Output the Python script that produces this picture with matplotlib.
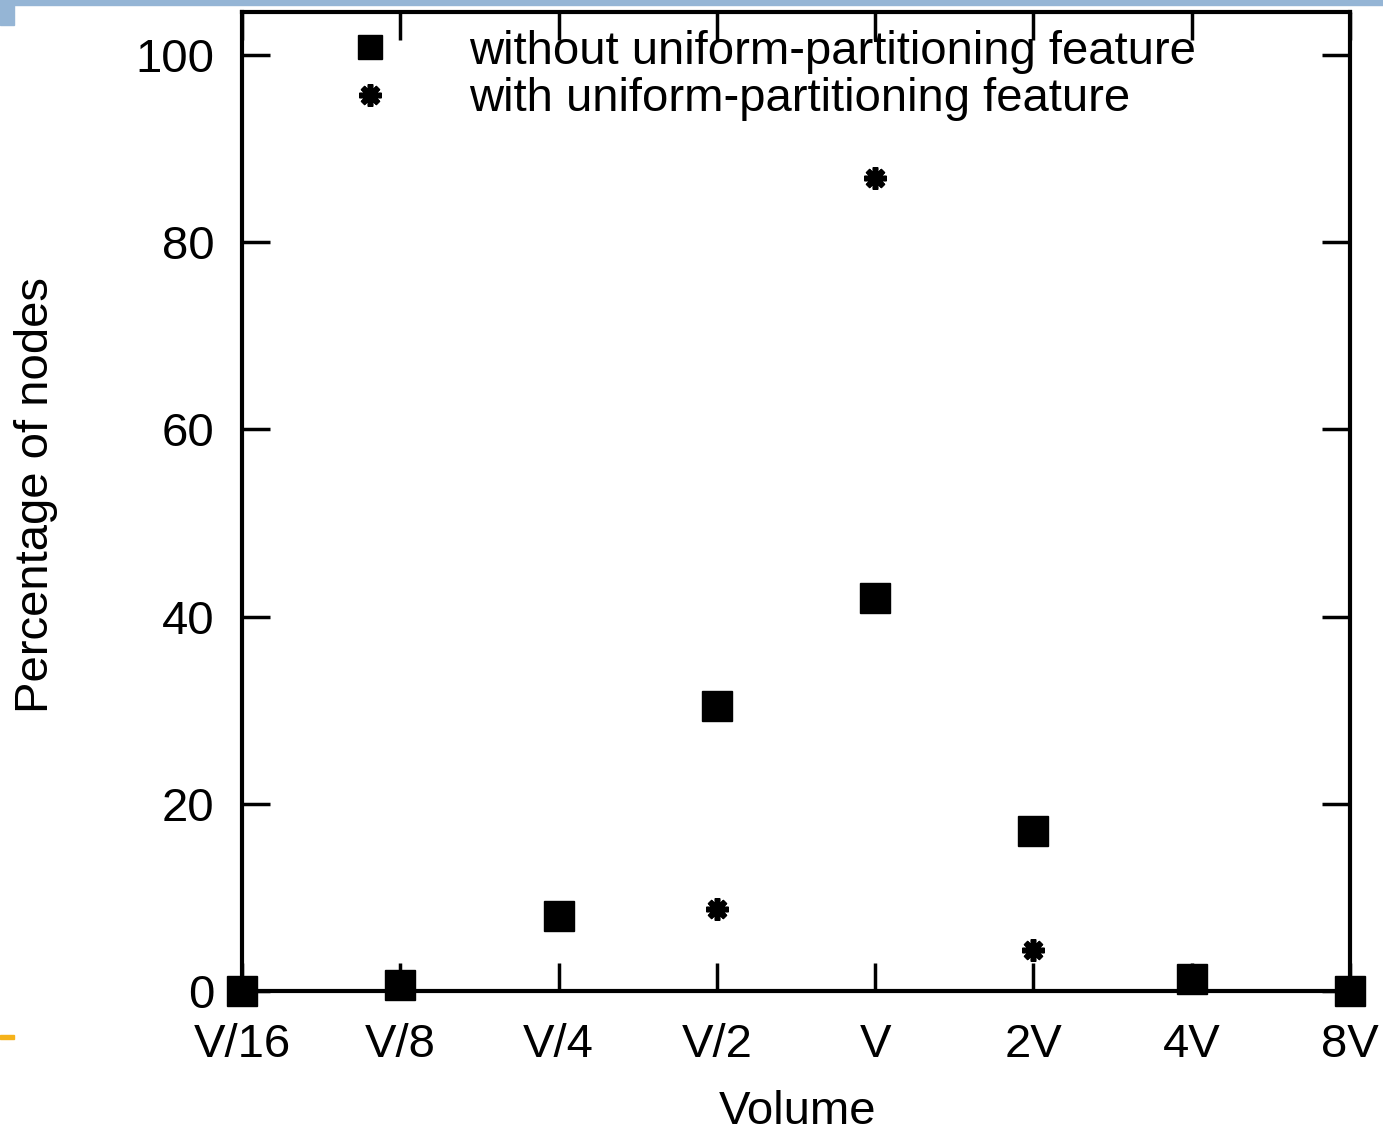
import numpy as np
import matplotlib.pyplot as plt
from matplotlib.patches import Rectangle

plt.rcParams['font.family'] = ['Liberation Sans', 'DejaVu Sans']

volume_labels = ["V/16", "V/8", "V/4", "V/2", "V", "2V", "4V", "8V"]
without_uniform = [0.0, 0.6, 8.0, 30.4, 42.0, 17.1, 1.3, 0.0]
with_idx = [3, 4, 5]
with_uniform = [8.8, 86.9, 4.4]

fig = plt.figure(figsize=(13.83, 11.34), dpi=100)
ax = fig.add_axes([242 / 1383, 1 - 991 / 1134, (1350 - 242) / 1383, (991 - 12) / 1134])

x = np.arange(len(volume_labels))
ax.plot(x, without_uniform, linestyle="none", marker="s", markersize=22,
        color="black", clip_on=False, zorder=5,
        label="without uniform-partitioning feature")
ax.plot(x[with_idx], with_uniform, linestyle="none", marker=(8, 2, 0), markersize=16,
        markeredgewidth=4, color="black", clip_on=False, zorder=5,
        label="with uniform-partitioning feature")

ax.set_xlim(0, 7)
ax.set_ylim(0, 104.6)
ax.set_xticks(x)
ax.set_xticklabels(volume_labels)
ax.set_yticks([0, 20, 40, 60, 80, 100])
ax.tick_params(direction="in", length=20, width=2.5, labelsize=34, top=True, right=True)
ax.tick_params(axis="y", pad=20)
ax.tick_params(axis="x", pad=23)
for s in ax.spines.values():
    s.set_linewidth(3)

ax.set_xlabel("Volume", fontsize=34)
ax.set_ylabel("Percentage of nodes", fontsize=34)
ax.xaxis.set_label_coords(0.501, -0.101)
ax.yaxis.set_label_coords(-0.166, 0.507)

leg = ax.legend(loc="upper left", bbox_to_anchor=(0.056, 1.001), frameon=False, fontsize=34,
                handletextpad=1.09, labelspacing=0.07, borderaxespad=0.0, markerscale=1.0)
leg.legend_handles[0].set_markersize(17)

# slide decorations
fig.patches.append(Rectangle((0, 1 - 5 / 1134), 1, 5 / 1134, transform=fig.transFigure,
                             color="#95b5d5", zorder=0))
fig.patches.append(Rectangle((0, 1 - 25 / 1134), 14 / 1383, 25 / 1134, transform=fig.transFigure,
                             color="#95b5d5", zorder=0))
fig.patches.append(Rectangle((0, 1 - 1039 / 1134), 14 / 1383, 4 / 1134, transform=fig.transFigure,
                             color="#f5b21a", zorder=0))

fig.savefig("out.png", dpi=100)
